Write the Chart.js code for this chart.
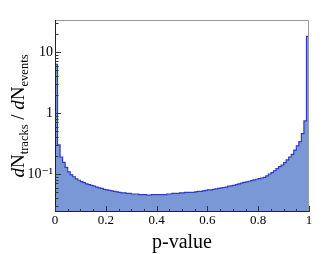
<!DOCTYPE html>
<html><head><meta charset="utf-8">
<script src="https://cdn.jsdelivr.net/npm/chart.js@4"></script>
<style>html,body{margin:0;padding:0;background:#fff}#w{width:327px;height:254px;position:relative}</style>
</head><body><div id="w"><canvas id="c"></canvas></div>
<script>
// Histogram of track p-values: 100 bins of width 0.01 over [0,1]
const binWidth = 0.01;
const binCounts = [
  6.3, 0.30, 0.19, 0.155, 0.128, 0.108, 0.097, 0.090, 0.083, 0.079,
  0.075, 0.072, 0.069, 0.067, 0.065, 0.063, 0.061, 0.059, 0.058, 0.056,
  0.055, 0.054, 0.053, 0.052, 0.051, 0.050, 0.049, 0.049, 0.048, 0.048,
  0.047, 0.047, 0.047, 0.046, 0.046, 0.046, 0.045, 0.045, 0.046, 0.046,
  0.046, 0.046, 0.046, 0.046, 0.047, 0.047, 0.048, 0.048, 0.048, 0.049,
  0.049, 0.050, 0.050, 0.050, 0.050, 0.051, 0.052, 0.052, 0.053, 0.054,
  0.055, 0.055, 0.056, 0.057, 0.058, 0.059, 0.060, 0.061, 0.063, 0.064,
  0.065, 0.067, 0.069, 0.071, 0.073, 0.074, 0.076, 0.078, 0.080, 0.082,
  0.084, 0.086, 0.088, 0.093, 0.100, 0.105, 0.113, 0.122, 0.132, 0.140,
  0.153, 0.170, 0.190, 0.210, 0.247, 0.290, 0.340, 0.460, 0.740, 18.0
];
const xTickLabels = [0, 0.2, 0.4, 0.6, 0.8, 1];
const yTickLabels = {"10": "10", "1": "1", "0.1": "10\u207B\u00B9"};
const xTitle = "p-value";
const yTitleParts = [["d", "i"], ["N", "n"], ["tracks", "s"], [" / ", "n"], ["d", "i"], ["N", "n"], ["events", "s"]];

// step outline points at bin lower edges + final right edge
const histPoints = binCounts.map((v, i) => ({x: +(i * binWidth).toFixed(4), y: v}));
histPoints.push({x: 1, y: binCounts[binCounts.length - 1]});

const SERIF = '"Liberation Serif", "DejaVu Serif", serif';
const YMIN = 0.0238, YMAX = 33.5;

const framePlugin = {
  id: 'frame',
  afterDraw(chart) {
    const ctx = chart.ctx, a = chart.chartArea;
    const xs = chart.scales.x, ys = chart.scales.y;
    ctx.save();
    // frame
    ctx.lineWidth = 1;
    ctx.strokeStyle = '#999';
    ctx.beginPath();
    ctx.moveTo(a.left, a.top + 0.5); ctx.lineTo(a.right - 0.5, a.top + 0.5);
    ctx.lineTo(a.right - 0.5, a.bottom);
    ctx.stroke();
    ctx.strokeStyle = '#222';
    ctx.beginPath();
    ctx.moveTo(a.left + 0.5, a.top); ctx.lineTo(a.left + 0.5, a.bottom - 0.5);
    ctx.lineTo(a.right, a.bottom - 0.5);
    ctx.stroke();
    // x ticks (inside)
    ctx.strokeStyle = '#333';
    ctx.beginPath();
    for (let k = 0; k <= 20; k++) {
      const v = k * 0.05;
      const px = Math.round(xs.getPixelForValue(v)) + 0.5;
      const len = (k % 4 === 0) ? 6 : 3;
      ctx.moveTo(px, a.bottom); ctx.lineTo(px, a.bottom - len);
    }
    ctx.stroke();
    // y ticks (inside, log)
    ctx.beginPath();
    for (let e = -2; e <= 1; e++) {
      for (let m = 1; m <= 9; m++) {
        const v = m * Math.pow(10, e);
        if (v < YMIN || v > YMAX) continue;
        const py = Math.round(ys.getPixelForValue(v)) + 0.5;
        const len = m === 1 ? 6 : 3.5;
        ctx.moveTo(a.left, py); ctx.lineTo(a.left + len, py);
      }
    }
    ctx.stroke();
    // y title with subscripts
    const big = 19, small = 12.5;
    const fontFor = (t) => t === 'i' ? `italic ${big}px ${SERIF}` : (t === 's' ? `${small}px ${SERIF}` : `${big}px ${SERIF}`);
    let total = 0;
    for (const [s, t] of yTitleParts) { ctx.font = fontFor(t); total += ctx.measureText(s).width; }
    ctx.translate(24, 116 + total / 2);
    ctx.rotate(-Math.PI / 2);
    ctx.fillStyle = '#000';
    ctx.textBaseline = 'alphabetic';
    let x = 0;
    for (const [s, t] of yTitleParts) {
      ctx.font = fontFor(t);
      ctx.fillText(s, x, t === 's' ? 3.5 : 0);
      x += ctx.measureText(s).width;
    }
    ctx.restore();
  }
};

new Chart(document.getElementById('c'), {
  type: 'line',
  data: {
    datasets: [{
      data: histPoints,
      stepped: 'before',
      fill: 'start',
      backgroundColor: 'rgb(122,152,214)',
      borderColor: 'rgb(50,60,195)',
      borderWidth: 1.2,
      pointRadius: 0,
      tension: 0
    }]
  },
  options: {
    responsive: true,
    maintainAspectRatio: false,
    animation: false,
    events: [],
    layout: {padding: {top: 20, right: 18, left: 0, bottom: 0}},
    plugins: {legend: {display: false}, tooltip: {enabled: false}},
    scales: {
      x: {
        type: 'linear', min: 0, max: 1,
        grid: {display: false, drawTicks: false},
        border: {display: false},
        afterFit(s) { s.height = 42; },
        afterBuildTicks(s) { s.ticks = xTickLabels.map(v => ({value: v})); },
        ticks: {
          autoSkip: false, maxRotation: 0, padding: 1, color: '#000',
          font: {family: SERIF, size: 13},
          callback: v => String(+v.toFixed(2))
        },
        title: {display: true, text: xTitle, color: '#000', font: {family: SERIF, size: 20, lineHeight: 1}, padding: {top: 0, bottom: 1}}
      },
      y: {
        type: 'logarithmic', min: YMIN, max: YMAX,
        grid: {display: false, drawTicks: false},
        border: {display: false},
        afterFit(s) { s.width = 55; },
        afterBuildTicks(s) { s.ticks = Object.keys(yTickLabels).map(k => ({value: +k})); },
        ticks: {
          autoSkip: false, padding: 2, color: '#000',
          font: {family: SERIF, size: 14},
          callback: v => yTickLabels[String(v)] || ''
        }
      }
    }
  },
  plugins: [framePlugin]
});
</script>
</body></html>
